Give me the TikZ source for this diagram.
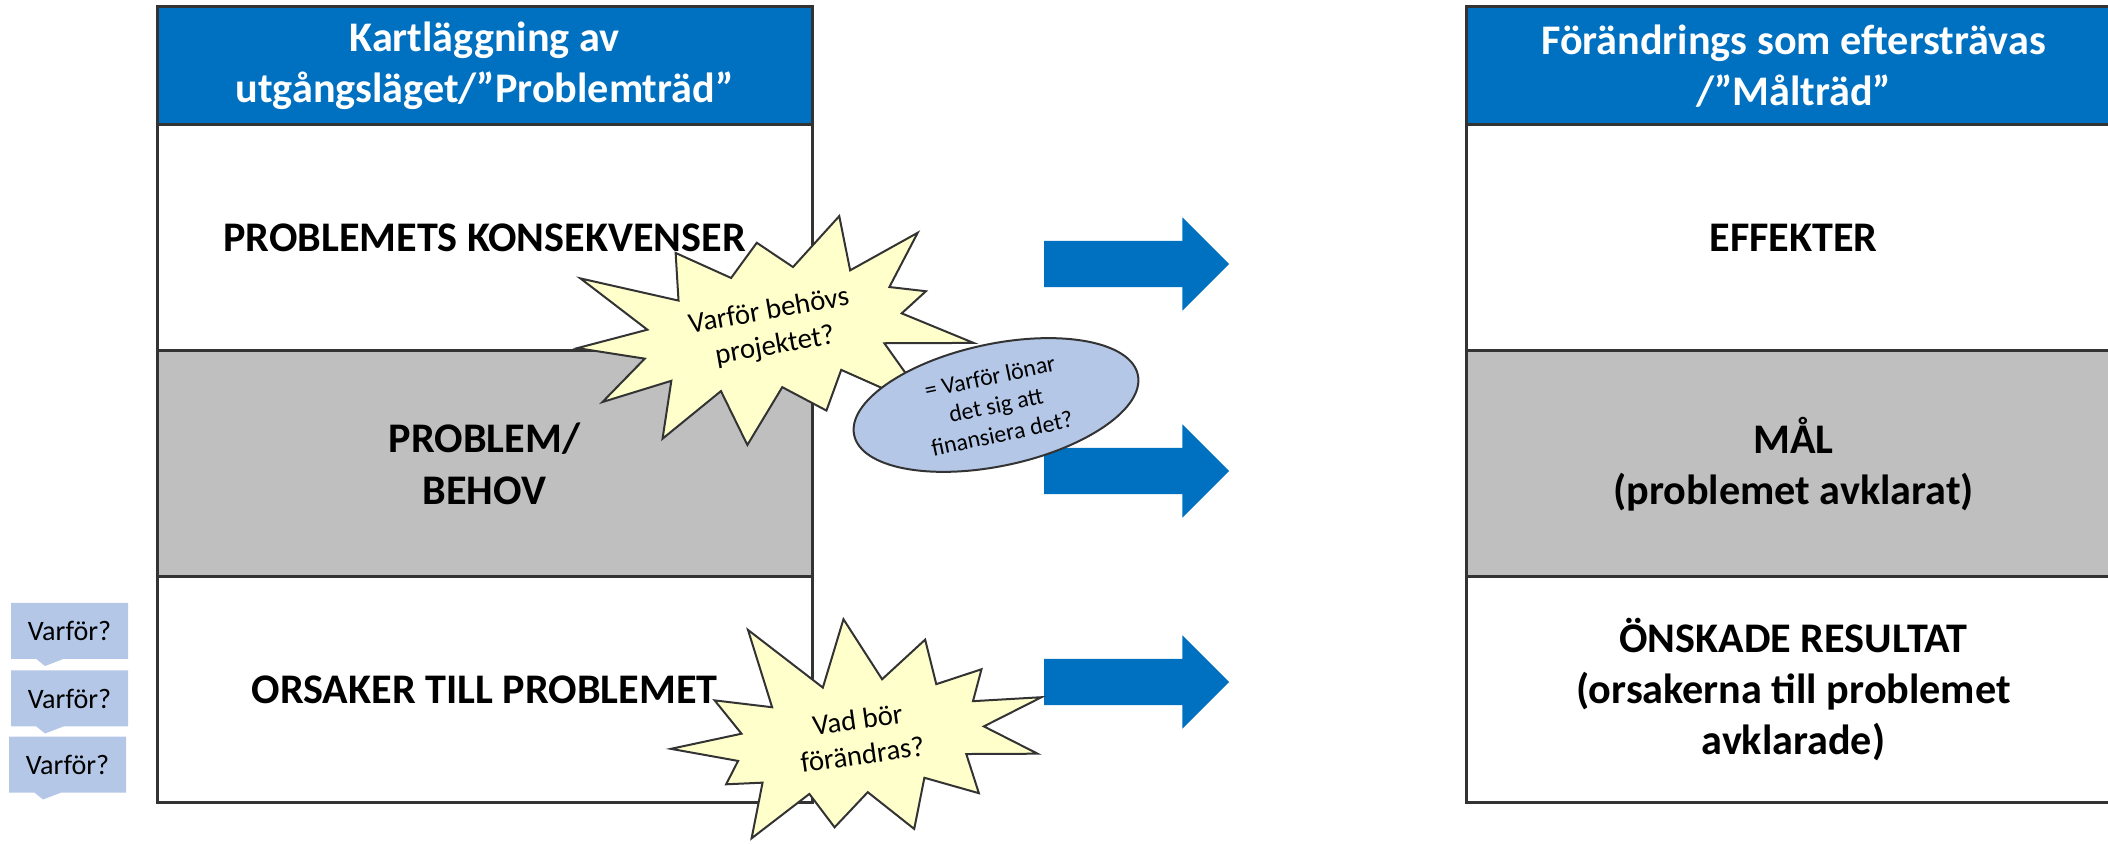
\documentclass[tikz,border=0pt]{standalone}
\usepackage{fontspec}
\setmainfont{Carlito}
\usetikzlibrary{shapes.geometric,shapes.symbols,shapes.arrows,shapes.callouts}
\definecolor{rubrikbla}{HTML}{0070C0}
\definecolor{ljusbla}{HTML}{B4C7E7}
\definecolor{gra}{HTML}{BFBFBF}
\definecolor{ljusgul}{HTML}{FFFFCC}
\tikzset{
	ruta/.style={draw=black!80, line width=0.3mm, minimum width=6.55cm, inner sep=0, align=center, font=\bfseries\fontsize{12}{14.6}\selectfont},
	rubrik/.style={ruta, fill=rubrikbla, text=white, minimum height=1.18cm},
	rad/.style={ruta, minimum height=2.26cm},
	pil/.style={single arrow, fill=rubrikbla, minimum height=1.85cm, minimum width=0.92cm, inner xsep=0, inner ysep=0.225cm, single arrow head extend=0.235cm},
	stjarna/.style={starburst, draw=black!80, fill=ljusgul, line width=0.2mm, align=center, font=\fontsize{8.2}{10}\selectfont},
	varfor/.style={rectangle callout, fill=ljusbla, minimum width=1.17cm, minimum height=0.56cm, callout pointer width=0.27cm, font=\fontsize{8}{9.6}\selectfont}
}

\begin{document}
\begin{tikzpicture}
		%%%%% START %%%%%
		\useasboundingbox (0, 0) rectangle (21.08, 8.43);
		\clip (0, 0) rectangle (21.08, 8.43);
		
		\node[rubrik] (probhuvud) at (4.845, 7.77) {Kartläggning av\\utgångsläget/”Problemträd”};
		\node[rad] (konsekvenser) at (4.845, 6.05) {PROBLEMETS KONSEKVENSER};
		\node[rad, fill=gra] (problem) at (4.845, 3.79) {PROBLEM/\\BEHOV};
		\node[rad] (orsaker) at (4.845, 1.535) {ORSAKER TILL PROBLEMET};
		
		\node[rubrik] (malhuvud) at (17.935, 7.77) {Förändrings som eftersträvas\\/”Målträd”};
		\node[rad] (effekter) at (17.935, 6.05) {EFFEKTER};
		\node[rad, fill=gra] (mal) at (17.935, 3.79) {MÅL\\(problemet avklarat)};
		\node[rad] (resultat) at (17.935, 1.535) {ÖNSKADE RESULTAT\\(orsakerna till problemet\\avklarade)};
		
		\node[pil] (pil1) at (11.25, 5.79) {};
		\node[pil] (pil2) at (11.25, 3.72) {};
		\node[pil] (pil3) at (11.25, 1.61) {};
		
		\node[varfor, callout absolute pointer={(0.45, 1.77)}] (varfor1) at (0.695, 2.12) {Varför?};
		\node[varfor, callout absolute pointer={(0.45, 1.095)}] (varfor2) at (0.695, 1.445) {Varför?};
		\node[varfor, callout absolute pointer={(0.43, 0.435)}] (varfor3) at (0.675, 0.785) {Varför?};
		
		\node[stjarna, rotate=10, minimum width=3.9cm, minimum height=2.6cm, starburst points=13, starburst point height=0.9cm, random starburst=3] (behovs) at (7.72, 5.14) {Varför behövs\\projektet?};
		\node[ellipse, draw=black!80, fill=ljusbla, line width=0.2mm, rotate=12, minimum width=2.9cm, minimum height=1.22cm, inner sep=0, align=center, font=\fontsize{6.8}{8.3}\selectfont] (lonar) at (9.96, 4.38) {= Varför lönar\\det sig att\\finansiera det?};
		\node[stjarna, rotate=8, minimum width=4.2cm, minimum height=2.0cm, starburst points=13, starburst point height=0.85cm, random starburst=11] (forandras) at (8.6, 1.06) {Vad bör\\förändras?};
		
		%%%%% END %%%%%
	\end{tikzpicture}
\end{document}
